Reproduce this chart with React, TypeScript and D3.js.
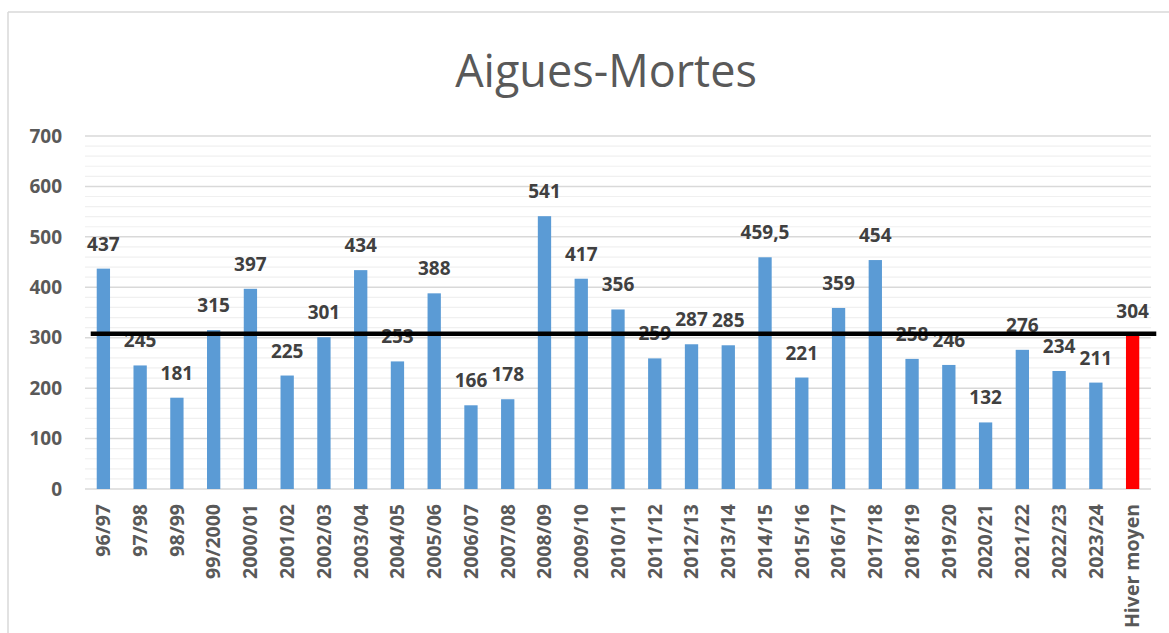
import React from 'react';
import * as d3 from 'd3';

// Aigues-Mortes: winter totals per season with the average-winter bar in red
// and a thick black reference line across the plot.

const seasons = [
  '96/97', '97/98', '98/99', '99/2000', '2000/01', '2001/02', '2002/03', '2003/04',
  '2004/05', '2005/06', '2006/07', '2007/08', '2008/09', '2009/10', '2010/11',
  '2011/12', '2012/13', '2013/14', '2014/15', '2015/16', '2016/17', '2017/18',
  '2018/19', '2019/20', '2020/21', '2021/22', '2022/23', '2023/24', 'Hiver moyen',
];
const values = [
  437, 245, 181, 315, 397, 225, 301, 434, 253, 388, 166, 178, 541, 417, 356,
  259, 287, 285, 459.5, 221, 359, 454, 258, 246, 132, 276, 234, 211, 304,
];
const highlighted = ['Hiver moyen'];
const yTicks = [0, 100, 200, 300, 400, 500, 600, 700];
const referenceValue = 308;

const W = 1169;
const H = 633;
const PLOT = { left: 85, right: 1151, top: 136, bottom: 489 };
const FONT = '"Open Sans", "DejaVu Sans", sans-serif';

const fr = d3.formatLocale({ decimal: ',', thousands: ' ', grouping: [3], currency: ['', ' €'] });
const fmt = (v: number) => (Number.isInteger(v) ? String(v) : fr.format(',.1f')(v));

export default function App() {
  const x = d3.scaleBand<string>().domain(seasons).range([PLOT.left, PLOT.right]).paddingInner(0.638).paddingOuter(0.319);
  const y = d3.scaleLinear().domain([0, 700]).range([PLOT.bottom, PLOT.top]);
  const minor = d3.range(0, 701, 20).filter((v) => v % 100 !== 0);
  const bw = x.bandwidth();
  const rows = seasons.map((s, i) => ({ s, v: values[i] }));

  return (
    <svg width={W} height={H} style={{ position: 'absolute', left: 0, top: 0, background: '#fff' }}>
      <rect width={W} height={H} fill="#fff" />
      {/* chart frame */}
      <line x1={8} x2={8} y1={12} y2={H} stroke="#d9d9d9" strokeWidth={1.5} />
      <line x1={8} x2={W} y1={12} y2={12} stroke="#d9d9d9" strokeWidth={1.5} />

      <text x={606} y={87} textAnchor="middle" fontFamily={FONT} fontSize={45} fill="#595959">
        Aigues-Mortes
      </text>

      {/* gridlines */}
      {minor.map((v) => (
        <line key={`m${v}`} x1={PLOT.left} x2={PLOT.right} y1={y(v)} y2={y(v)} stroke="#f0f0f0" strokeWidth={1.2} />
      ))}
      {yTicks.map((v) => (
        <line key={`g${v}`} x1={PLOT.left} x2={PLOT.right} y1={y(v)} y2={y(v)} stroke="#d9d9d9" strokeWidth={1.5} />
      ))}
      {yTicks.map((v) => (
        <text key={`t${v}`} x={62} y={y(v)} dy="0.35em" textAnchor="end" fontFamily={FONT} fontWeight="bold" fontSize={19} fill="#595959">
          {v}
        </text>
      ))}

      {/* bars */}
      {rows.map((d) => (
        <rect
          key={d.s}
          x={x(d.s)}
          y={y(d.v)}
          width={bw}
          height={PLOT.bottom - y(d.v)}
          fill={highlighted.includes(d.s) ? '#ff0000' : '#5b9bd5'}
        />
      ))}
      {rows.map((d) => (
        <text
          key={`l${d.s}`}
          x={(x(d.s) ?? 0) + bw / 2}
          y={y(d.v) - 18}
          textAnchor="middle"
          fontFamily={FONT}
          fontWeight="bold"
          fontSize={19}
          fill="#404040"
        >
          {fmt(d.v)}
        </text>
      ))}

      {/* reference line */}
      <line
        x1={(x(seasons[0]) ?? 0) - 6}
        x2={(x(seasons[seasons.length - 1]) ?? 0) + bw + 17}
        y1={y(referenceValue)}
        y2={y(referenceValue)}
        stroke="#000"
        strokeWidth={4.5}
      />

      {/* category labels */}
      {seasons.map((s) => {
        const cx = (x(s) ?? 0) + bw / 2;
        return (
          <text
            key={`x${s}`}
            transform={`translate(${cx},${PLOT.bottom + 15}) rotate(-90)`}
            dy="0.35em"
            textAnchor="end"
            fontFamily={FONT}
            fontWeight="bold"
            fontSize={19.5}
            fill="#595959"
          >
            {s}
          </text>
        );
      })}
    </svg>
  );
}
